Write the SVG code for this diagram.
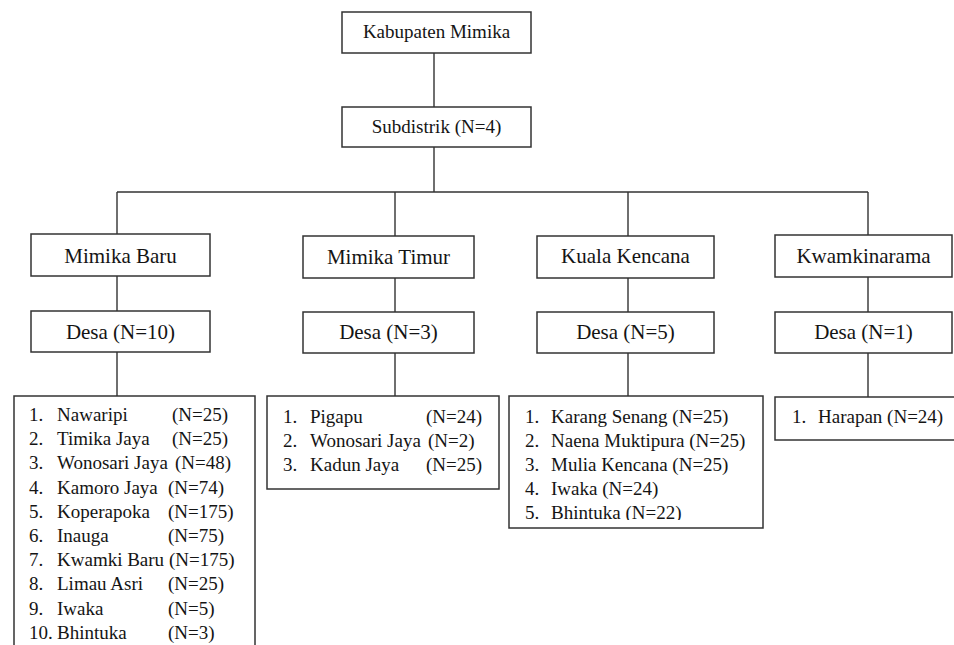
<svg xmlns="http://www.w3.org/2000/svg" width="954" height="645" viewBox="0 0 954 645">
<style>
.box{fill:#fff;stroke:#333;stroke-width:1.5}
.ln{fill:none;stroke:#333;stroke-width:1.4}
text{fill:#141414}
.t{font-size:19px;text-anchor:middle}
.m{font-size:21px;text-anchor:middle}
.l{font-size:19px}
</style>
<defs>
<clipPath id="c3"><rect x="509" y="396" width="254" height="124"/></clipPath>
</defs>
<rect width="954" height="645" fill="#fff"/>
<g font-family="Liberation Serif, DejaVu Serif, serif">
<g id="connectors">
<path class="ln" d="M434 53V107M434 147V192M117 192H868M117 192V234M395 192V236M628 192V236M868 192V235"/>
<path class="ln" d="M117 276V311M395 278V312M628 278V312M868 277V312"/>
<path class="ln" d="M117 352V396M395 353V396M628 353V396M868 353V397"/>
</g>
<g id="kabupaten"><rect class="box" x="342" y="12" width="189" height="41"/><text class="t" x="436.5" y="38">Kabupaten Mimika</text></g>
<g id="subdistrik"><rect class="box" x="342" y="107" width="189" height="40"/><text class="t" x="436.5" y="133">Subdistrik (N=4)</text></g>
<g id="mimika-baru"><rect class="box" x="31" y="234" width="179" height="42"/><text class="m" x="120.5" y="263">Mimika Baru</text></g>
<g id="mimika-timur"><rect class="box" x="303" y="236" width="171" height="42"/><text class="m" x="388.5" y="264">Mimika Timur</text></g>
<g id="kuala-kencana"><rect class="box" x="537" y="236" width="177" height="42"/><text class="m" x="625.5" y="263">Kuala Kencana</text></g>
<g id="kwamkinarama"><rect class="box" x="775" y="235" width="177" height="42"/><text class="m" x="863.5" y="263">Kwamkinarama</text></g>
<g id="desa-baru"><rect class="box" x="31" y="311" width="179" height="41"/><text class="m" x="120.5" y="339">Desa (N=10)</text></g>
<g id="desa-timur"><rect class="box" x="303" y="312" width="171" height="41"/><text class="m" x="388.5" y="339">Desa (N=3)</text></g>
<g id="desa-kuala"><rect class="box" x="537" y="312" width="177" height="41"/><text class="m" x="625.5" y="339">Desa (N=5)</text></g>
<g id="desa-kwam"><rect class="box" x="775" y="312" width="177" height="41"/><text class="m" x="863.5" y="339">Desa (N=1)</text></g>
<g id="list-baru">
<rect class="box" x="14" y="396" width="241" height="270"/>
<text class="l" x="29" y="421">1.</text><text class="l" x="57" y="421">Nawaripi</text><text class="l" x="172" y="421">(N=25)</text>
<text class="l" x="29" y="445">2.</text><text class="l" x="57" y="445">Timika Jaya</text><text class="l" x="172" y="445">(N=25)</text>
<text class="l" x="29" y="469">3.</text><text class="l" x="57" y="469">Wonosari Jaya</text><text class="l" x="175" y="469">(N=48)</text>
<text class="l" x="29" y="494">4.</text><text class="l" x="57" y="494">Kamoro Jaya</text><text class="l" x="168" y="494">(N=74)</text>
<text class="l" x="29" y="518">5.</text><text class="l" x="57" y="518">Koperapoka</text><text class="l" x="168" y="518">(N=175)</text>
<text class="l" x="29" y="542">6.</text><text class="l" x="57" y="542">Inauga</text><text class="l" x="168" y="542">(N=75)</text>
<text class="l" x="29" y="566">7.</text><text class="l" x="57" y="566">Kwamki Baru</text><text class="l" x="169" y="566">(N=175)</text>
<text class="l" x="29" y="590">8.</text><text class="l" x="57" y="590">Limau Asri</text><text class="l" x="168" y="590">(N=25)</text>
<text class="l" x="29" y="615">9.</text><text class="l" x="57" y="615">Iwaka</text><text class="l" x="168" y="615">(N=5)</text>
<text class="l" x="29" y="639">10.</text><text class="l" x="57" y="639">Bhintuka</text><text class="l" x="168" y="639">(N=3)</text>
</g>
<g id="list-timur">
<rect class="box" x="267" y="396" width="232" height="93"/>
<text class="l" x="283" y="423">1.</text><text class="l" x="310" y="423">Pigapu</text><text class="l" x="426" y="423">(N=24)</text>
<text class="l" x="283" y="447">2.</text><text class="l" x="310" y="447">Wonosari Jaya</text><text class="l" x="428" y="447">(N=2)</text>
<text class="l" x="283" y="471">3.</text><text class="l" x="310" y="471">Kadun Jaya</text><text class="l" x="426" y="471">(N=25)</text>
</g>
<g id="list-kuala">
<rect class="box" x="509" y="396" width="254" height="132"/>
<text class="l" x="525" y="423">1.</text><text class="l" x="551" y="423">Karang Senang (N=25)</text>
<text class="l" x="525" y="447">2.</text><text class="l" x="551" y="447">Naena Muktipura (N=25)</text>
<text class="l" x="525" y="471">3.</text><text class="l" x="551" y="471">Mulia Kencana (N=25)</text>
<text class="l" x="525" y="495">4.</text><text class="l" x="551" y="495">Iwaka (N=24)</text>
<g clip-path="url(#c3)"><text class="l" x="525" y="519">5.</text><text class="l" x="551" y="519">Bhintuka (N=22)</text></g>
</g>
<g id="list-kwam">
<rect class="box" x="775" y="397" width="190" height="43"/>
<text class="l" x="792" y="423">1.</text><text class="l" x="818" y="423">Harapan (N=24)</text>
</g>
</g>
</svg>
